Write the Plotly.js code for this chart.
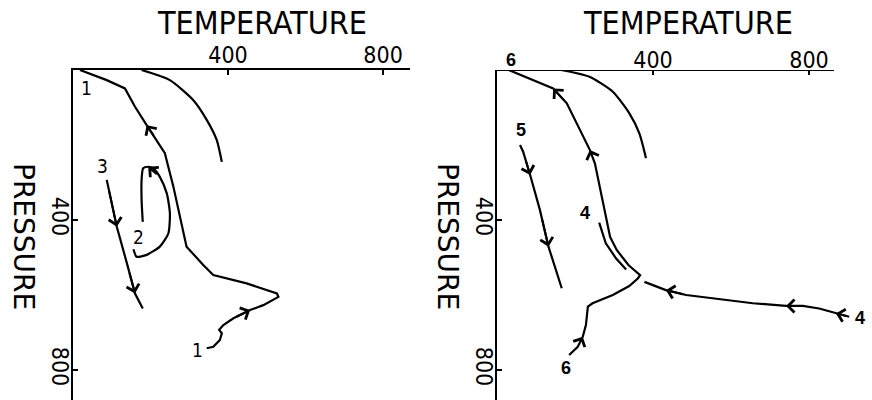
<!DOCTYPE html>
<html>
<head>
<meta charset="utf-8">
<script src="https://cdn.plot.ly/plotly-3.0.1.min.js"></script>
<style>html,body{margin:0;padding:0;background:#fff;}#chart{width:872px;height:400px;}</style>
</head>
<body>
<div id="chart"></div>
<script>
// ---- Left panel (paths 1, 2, 3) ----
var arcLeftT = [177, 250, 310, 345, 371, 384];
var arcLeftP = [0, 27, 80, 133, 187, 245];

var path1T = [345, 362, 379, 384, 377, 388, 414, 457, 491, 530, 526, 448, 362, 336, 293, 276, 259, 237, 216, 190, 160, 134, 87, 18];
var path1P = [742, 738, 720, 702, 693, 680, 662, 640, 627, 605, 596, 569, 547, 520, 471, 391, 311, 222, 187, 147, 98, 49, 27, 0];
var path1Arrows = [[7, 6], [19, 18]];   // [head index, tail index]

var path2T = [156, 164, 190, 224, 246, 250, 242, 224, 207, 194, 181, 177, 177, 180];
var path2P = [478, 498, 493, 471, 436, 382, 329, 285, 262, 258, 262, 293, 347, 405];
var path2Arrows = [[9, 7]];

var path3T = [87, 113, 139, 160, 180];
var path3P = [293, 418, 515, 596, 636];
var path3Arrows = [[1, 0], [3, 2]];

var leftLabels = ["1", "3", "2", "1"];
var leftLabelT = [34, 77, 168, 320];
var leftLabelP = [49, 256, 445, 747];

// ---- Right panel (paths 4, 5, 6) ----
var arcRightT = [164, 237, 297, 339, 365, 382];
var arcRightP = [0, 18, 58, 115, 169, 235];

var path4T = [903, 869, 826, 784, 741, 656, 570, 485, 433, 399, 378, null, 331, 305, 279, 262];
var path4P = [658, 649, 636, 629, 629, 622, 611, 600, 587, 573, 565, null, 532, 502, 462, 407];
var path4Arrows = [[1, 0], [4, 3], [8, 7]];

var path5T = [59, 67, 85, 110, 132, 166];
var path5P = [200, 218, 280, 373, 471, 582];
var path5Arrows = [[1, 0], [2, 1], [4, 3]];

var path6T = [185, 207, 220, 228, 233, 245, 297, 339, 361, 367, 337, 307, 290, 277, 264, 251, 238, 204, 179, 144, 30];
var path6P = [760, 738, 711, 680, 631, 622, 600, 576, 556, 547, 520, 480, 445, 382, 320, 249, 213, 142, 89, 49, 0];
var path6Arrows = [[2, 1], [16, 15], [19, 18]];

var rightLabels = ["6", "5", "4", "4", "6"];
var rightLabelT = [36, 62, 226, 931, 177];
var rightLabelP = [0, 160, 381, 661, 795];

var tickVals = [400, 800];
var tickText = ["400", "800"];

// ---- build ----
var INK = "#000";
var annotations = [];

function pathTrace(T, P, arrows, xa, ya, shape) {
  // arrowheads: drawn by the library from a vertex of the path and an earlier vertex
  arrows.forEach(function (a) {
    annotations.push({
      xref: xa, yref: ya, axref: xa, ayref: ya,
      x: T[a[0]], y: P[a[0]], ax: T[a[1]], ay: P[a[1]],
      text: " ", showarrow: true, arrowhead: 4, arrowsize: 1.25, arrowwidth: 2,
      arrowcolor: INK, standoff: 0, startstandoff: 0
    });
  });
  return {
    x: T, y: P, xaxis: xa, yaxis: ya, type: "scatter", mode: "lines",
    line: { color: INK, width: 2.2, shape: shape || "linear", smoothing: 0.6 },
    connectgaps: false, hoverinfo: "skip", showlegend: false
  };
}

var data = [
  pathTrace(arcLeftT, arcLeftP, [], "x", "y", "spline"),
  pathTrace(path1T, path1P, path1Arrows, "x", "y"),
  pathTrace(path2T, path2P, path2Arrows, "x", "y", "spline"),
  pathTrace(path3T, path3P, path3Arrows, "x", "y"),
  pathTrace(arcRightT, arcRightP, [], "x2", "y2", "spline"),
  pathTrace(path4T, path4P, path4Arrows, "x2", "y2"),
  pathTrace(path5T, path5P, path5Arrows, "x2", "y2"),
  pathTrace(path6T, path6P, path6Arrows, "x2", "y2")
];

var tickFont = { family: "DejaVu Sans Condensed, Liberation Sans Narrow, DejaVu Sans", size: 23, color: INK };

function xAxis(domain, range, showline) {
  return {
    domain: domain, range: range, side: "top", showgrid: false, zeroline: false,
    showline: showline, linecolor: INK, linewidth: 2,
    ticks: "inside", ticklen: 5, tickwidth: 2, tickcolor: INK,
    tickvals: tickVals, ticktext: tickText, tickfont: tickFont,
    ticklabelstandoff: -4
  };
}
function yAxis(anchor) {
  return {
    domain: [0, 0.825], range: [880, 0], anchor: anchor, showgrid: false, zeroline: false,
    showline: true, linecolor: INK, linewidth: 2,
    ticks: "inside", ticklen: 5, tickwidth: 2, tickcolor: INK,
    tickvals: tickVals, ticktext: tickText, tickangle: 90, tickfont: tickFont,
    ticklabelstandoff: -9
  };
}

var titleFont = { family: "DejaVu Sans Condensed, Liberation Sans Narrow, DejaVu Sans", size: 32, color: INK };
var pressFont = { family: "DejaVu Sans, Liberation Sans", size: 28, color: INK };
annotations.push({ xref: "paper", yref: "paper", x: 262 / 872, y: 1 - 23 / 400, text: "TEMPERATURE", showarrow: false, font: titleFont, xanchor: "center", yanchor: "middle" });
annotations.push({ xref: "paper", yref: "paper", x: 688 / 872, y: 1 - 23 / 400, text: "TEMPERATURE", showarrow: false, font: titleFont, xanchor: "center", yanchor: "middle" });
annotations.push({ xref: "paper", yref: "paper", x: 24 / 872, y: 1 - 236 / 400, text: "PRESSURE", textangle: 90, showarrow: false, font: pressFont, xanchor: "center", yanchor: "middle" });
annotations.push({ xref: "paper", yref: "paper", x: 448 / 872, y: 1 - 236 / 400, text: "PRESSURE", textangle: 90, showarrow: false, font: pressFont, xanchor: "center", yanchor: "middle" });

leftLabels.forEach(function (t, i) {
  annotations.push({ xref: "x", yref: "y", x: leftLabelT[i], y: leftLabelP[i], text: t, showarrow: false,
    font: { family: "DejaVu Sans Condensed, DejaVu Sans", size: 19, color: INK } });
});
rightLabels.forEach(function (t, i) {
  annotations.push({ xref: "x2", yref: "y2", x: rightLabelT[i], y: rightLabelP[i], text: "<b>" + t + "</b>", showarrow: false,
    yshift: rightLabelP[i] === 0 ? 10 : 0,
    font: { family: "Liberation Sans, Arial", size: 18, color: INK } });
});

var layout = {
  width: 872, height: 400,
  margin: { l: 0, r: 0, t: 0, b: 0, pad: 0 },
  paper_bgcolor: "#fff", plot_bgcolor: "#fff",
  showlegend: false,
  xaxis: xAxis([73 / 872, 410 / 872], [0, 869.5], true),
  yaxis: yAxis("x"),
  xaxis2: xAxis([497 / 872, 1], [0, 961.5], false),
  yaxis2: yAxis("x2"),
  shapes: [
    { type: "line", xref: "x2", yref: "y2", x0: 0, x1: 864, y0: 0, y1: 0, line: { color: INK, width: 2 } }
  ],
  annotations: annotations
};
layout.xaxis.anchor = "y";
layout.xaxis2.anchor = "y2";

Plotly.newPlot("chart", data, layout, { staticPlot: true, displayModeBar: false });
</script>
</body>
</html>
